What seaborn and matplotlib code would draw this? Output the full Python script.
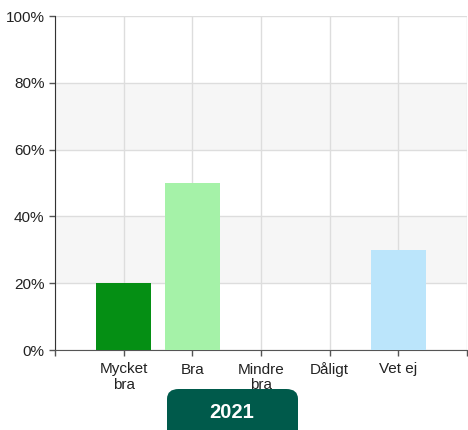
import matplotlib
matplotlib.use("Agg")
import matplotlib.pyplot as plt
import seaborn as sns
import pandas as pd
from matplotlib.patches import FancyBboxPatch
from matplotlib.ticker import PercentFormatter

categories = ["Mycket\nbra", "Bra", "Mindre\nbra", "Dåligt", "Vet ej"]
values = [20, 50, 0, 0, 30]
bar_colors = ["#058f14", "#a5f2a8", "#f2a5a5", "#e05050", "#bbe5fb"]
year = "2021"

sns.set_style("white")
plt.rcParams["font.family"] = ["Liberation Sans", "DejaVu Sans"]

df = pd.DataFrame({"cat": categories, "val": values})

fig = plt.figure(figsize=(4.68, 4.30), dpi=100)
ax = fig.add_axes([55 / 468, 80 / 430, 412 / 468, 334 / 430])

# alternating background bands
for lo in (20, 60):
    ax.axhspan(lo, lo + 20, color="#f6f6f6", zorder=0, lw=0)

sns.barplot(data=df, x="cat", y="val", hue="cat", palette=bar_colors,
            width=0.8, saturation=1, legend=False, ax=ax, zorder=3,
            linewidth=0)

ax.set_xlim(-1, 5)
ax.set_ylim(0, 100)
ax.set_yticks(range(0, 101, 20))
ax.yaxis.set_major_formatter(PercentFormatter(decimals=0))
ax.set_xticks(range(-1, 6))
ax.set_xticklabels([""] + categories + [""])
ax.grid(True, color="#dddddd", lw=1, zorder=1)
ax.set_axisbelow(True)
ax.set_xlabel("")
ax.set_ylabel("")

for s in ("top", "right"):
    ax.spines[s].set_visible(False)
ax.spines["left"].set_color("#333333")
ax.spines["bottom"].set_color("#555555")
ax.tick_params(axis="both", direction="out", length=4, width=1, color="#555555",
               labelsize=11, labelcolor="#222222", bottom=True, left=True)
ax.tick_params(axis="x", pad=5)
for lbl in ax.get_xticklabels():
    lbl.set_linespacing(1.1)

# year badge
box = FancyBboxPatch((167 / 468, -0.05), 131 / 468, (430 - 389) / 430 + 0.05,
                     boxstyle="round,pad=0,rounding_size=0.025",
                     transform=fig.transFigure, facecolor="#005a4b",
                     edgecolor="none", mutation_aspect=430 / 468)
fig.patches.append(box)
fig.text(232 / 468, 1 - 412 / 430, year, color="white", fontsize=14.5,
         fontweight="bold", ha="center", va="center")

fig.savefig("out.png", dpi=100)
